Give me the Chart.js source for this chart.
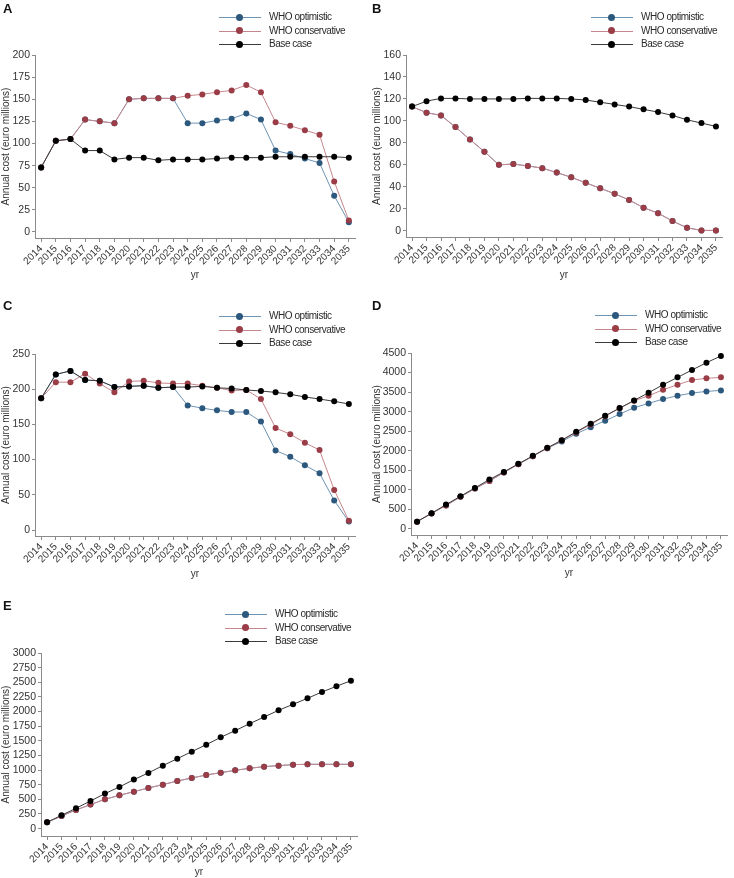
<!DOCTYPE html>
<html>
<head>
<meta charset="utf-8">
<script src="https://cdn.jsdelivr.net/npm/chart.js@4.4.1/dist/chart.umd.min.js"></script>
<style>
  body { margin: 0; background: #fff; width: 734px; height: 878px; position: relative; overflow: hidden; font-family: "Liberation Sans", Arial, sans-serif; }
  .panel { position: absolute; }
  .panel canvas { position: absolute; left: 0; top: 0; }
  .tag { position: absolute; font-weight: bold; font-size: 13px; color: #111; }
  .leg { position: absolute; height: 12px; font-size: 10px; color: #2a2a2a; white-space: nowrap; }
  .leg .ln { position: absolute; left: 0; top: 6px; width: 42px; height: 1px; }
  .leg .dot { position: absolute; left: 17px; top: 2.5px; width: 7px; height: 7px; border-radius: 50%; }
  .leg span { position: absolute; left: 50px; top: 0; line-height: 12px; letter-spacing: -0.45px; }
</style>
</head>
<body>
<script>
// years on the x axis
const years = [2014, 2015, 2016, 2017, 2018, 2019, 2020, 2021, 2022, 2023, 2024,
               2025, 2026, 2027, 2028, 2029, 2030, 2031, 2032, 2033, 2034, 2035];

// panel A
const aOpt  = [73, 103, 105, 127, 125, 123, 150, 151, 151, 151, 123, 123, 126, 128, 134, 127, 92, 88, 83, 78, 41, 11];
const aCons = [73, 103, 105, 127, 125, 123, 150, 151, 151, 151, 154, 155.5, 158, 160, 166, 158, 124, 120, 115, 110, 57, 13];
const aBase = [73, 103, 105, 92, 92, 82, 84, 84, 81, 82, 82, 82, 83, 84, 84, 84, 85, 85, 85, 85, 85, 84];
const aTicks = [0, 25, 50, 75, 100, 125, 150, 175, 200];

// panel B
const bOpt  = [113, 107.5, 105, 94.4, 83, 72, 60, 60.7, 59, 57, 53, 48.6, 43.7, 38.6, 33.7, 28, 21, 16, 8.8, 2.7, 0.3, 0.3];
const bCons = [113, 107.5, 105, 94.4, 83, 72, 60, 60.7, 59, 57, 53, 48.6, 43.7, 38.6, 33.7, 28, 21, 16, 8.8, 2.7, 0.3, 0.3];
const bBase = [113, 118, 120.5, 120.5, 120, 120, 120, 120, 120.5, 120.5, 120.5, 120, 119, 117, 115, 113, 110.5, 108, 105, 101, 98, 95];
const bTicks = [0, 20, 40, 60, 80, 100, 120, 140, 160];

// panel C
const cOpt  = [187, 221, 226, 213, 212, 203, 204, 205, 202, 203, 177, 173, 170, 167.6, 167.6, 154, 113, 104, 92, 80.5, 42, 12];
const cCons = [187, 210, 210, 222, 208, 195.5, 211, 212, 209, 208, 208, 205, 202, 198, 199, 186, 145, 136, 124, 113.6, 57, 13];
const cBase = [187, 221, 226, 213, 212, 203, 204, 205, 202, 203, 203, 204, 202, 201, 199, 197.4, 195.5, 192.7, 189, 186, 182.8, 179];
const cTicks = [0, 50, 100, 150, 200, 250];

// panel D
const dOpt  = [188, 398, 600, 822, 1035, 1225, 1445, 1655, 1860, 2062, 2237, 2434, 2604, 2767, 2938, 3100, 3211, 3322, 3407, 3476, 3518, 3544];
const dCons = [188, 398, 600, 822, 1035, 1225, 1445, 1655, 1860, 2065, 2262, 2470, 2670, 2885, 3085, 3279, 3407, 3561, 3689, 3809, 3852, 3877];
const dBase = [188, 401, 623, 837, 1050, 1264, 1460, 1665, 1870, 2075, 2272, 2485, 2690, 2895, 3091, 3288, 3484, 3689, 3877, 4065, 4253, 4424];
const dTicks = [0, 500, 1000, 1500, 2000, 2500, 3000, 3500, 4000, 4500];

// panel E
const eOpt  = [108, 216, 319, 410, 501, 569, 632, 694, 751, 814, 865, 916, 956, 996, 1030, 1059, 1076, 1093, 1099, 1099, 1099, 1099];
const eCons = [108, 216, 319, 410, 501, 569, 632, 694, 751, 814, 865, 916, 956, 996, 1030, 1059, 1076, 1093, 1099, 1099, 1099, 1099];
const eBase = [108, 228, 347, 472, 598, 712, 837, 951, 1076, 1195, 1315, 1434, 1560, 1674, 1793, 1907, 2021, 2123, 2226, 2334, 2431, 2527];
const eTicks = [0, 250, 500, 750, 1000, 1250, 1500, 1750, 2000, 2250, 2500, 2750, 3000];

const seriesNames = ["WHO optimistic", "WHO conservative", "Base case"];
const dotColors  = ["#2b587c", "#9a3d47", "#000000"];
const lineColors = ["#6e93b4", "#c6868d", "#3a3a3a"];

Chart.defaults.font.family = '"Liberation Sans", Arial, sans-serif';
Chart.defaults.font.size = 10;
Chart.defaults.color = "#333";

// one panel = one canvas + html legend + letter
function panel(p) {
    const box = document.createElement("div");
    box.className = "panel";
    box.style.left = p.x + "px";
    box.style.top = p.y + "px";
    box.style.width = p.w + "px";
    box.style.height = p.h + "px";
    document.body.appendChild(box);

    const cv = document.createElement("canvas");
    cv.width = p.w;
    cv.height = p.h;
    box.appendChild(cv);

    const tag = document.createElement("div");
    tag.className = "tag";
    tag.textContent = p.tag;
    tag.style.left = p.tagX + "px";
    tag.style.top = p.tagY + "px";
    box.appendChild(tag);

    seriesNames.forEach((n, i) => {
        const row = document.createElement("div");
        row.className = "leg";
        row.style.left = p.legX + "px";
        row.style.top = (p.legY + i * 13.5) + "px";
        row.innerHTML = `<div class="ln" style="background:${lineColors[i]}"></div>` +
            `<div class="dot" style="background:${dotColors[i]}"></div><span>${n}</span>`;
        box.appendChild(row);
    });

    const sets = [p.opt, p.cons, p.base].map((vals, i) => ({
        label: seriesNames[i],
        data: years.map((yr, k) => ({ x: yr, y: vals[k] })),
        borderColor: lineColors[i],
        backgroundColor: dotColors[i],
        pointBackgroundColor: dotColors[i],
        pointBorderColor: dotColors[i],
        borderWidth: 1,
        pointRadius: 3,
        pointBorderWidth: 0,
        order: 2 - i   // base case on top
    }));

    new Chart(cv.getContext("2d"), {
        type: "line",
        data: { datasets: sets },
        options: {
            responsive: false,
            animation: false,
            layout: { padding: { top: p.top, right: p.right, left: 0, bottom: 0 } },
            plugins: { legend: { display: false }, tooltip: { enabled: false } },
            scales: {
                x: {
                    type: "linear",
                    bounds: "data",
                    min: 2013.58,
                    max: 2035.42,
                    afterBuildTicks: s => { s.ticks = years.map(v => ({ value: v })); },
                    afterFit: s => { s.height = p.xh; },
                    ticks: { callback: v => String(v), autoSkip: false, minRotation: 45, maxRotation: 45, padding: 1, color: "#333" },
                    grid: { drawOnChartArea: false, drawTicks: true, tickLength: 4, color: "#8a8a8a" },
                    border: { display: true, color: "#8a8a8a" },
                    title: { display: true, text: "yr", color: "#333", padding: { top: 0, bottom: p.xtPad } }
                },
                y: {
                    type: "linear",
                    bounds: "data",
                    min: p.ymin,
                    max: p.ticks[p.ticks.length - 1],
                    afterBuildTicks: s => { s.ticks = p.ticks.map(v => ({ value: v })); },
                    afterFit: s => { s.width = p.yw; },
                    ticks: { callback: v => String(v), autoSkip: false, padding: 2, color: "#333", font: { size: 10.5 } },
                    grid: { drawOnChartArea: false, drawTicks: true, tickLength: 3, color: "#8a8a8a" },
                    border: { display: true, color: "#8a8a8a" },
                    title: { display: true, text: "Annual cost (euro millions)", color: "#333", padding: { top: p.ytPad, bottom: 0 } }
                }
            }
        }
    });
}

panel({ tag: "A", x: 0, y: 0, w: 367, h: 290, tagX: 3, tagY: 1, legX: 219, legY: 11,
        top: 55, right: 12, yw: 35, xh: 52, xtPad: 9, ytPad: 0, ymin: -6.8, ticks: aTicks,
        opt: aOpt, cons: aCons, base: aBase });
panel({ tag: "B", x: 367, y: 0, w: 367, h: 290, tagX: 5, tagY: 1, legX: 224, legY: 11,
        top: 55, right: 12, yw: 39, xh: 53, xtPad: 9, ytPad: 4, ymin: -5.7, ticks: bTicks,
        opt: bOpt, cons: bCons, base: bBase });
panel({ tag: "C", x: 0, y: 290, w: 367, h: 290, tagX: 3, tagY: 8, legX: 219, legY: 20,
        top: 64, right: 12, yw: 35, xh: 44, xtPad: 0, ytPad: 0, ymin: -8.5, ticks: cTicks,
        opt: cOpt, cons: cCons, base: cBase });
panel({ tag: "D", x: 367, y: 290, w: 367, h: 290, tagX: 5, tagY: 8, legX: 228, legY: 19,
        top: 63, right: 7, yw: 44, xh: 45, xtPad: 1, ytPad: 4, ymin: -154, ticks: dTicks,
        opt: dOpt, cons: dCons, base: dBase });
panel({ tag: "E", x: 0, y: 580, w: 367, h: 298, tagX: 3, tagY: 18, legX: 225, legY: 28,
        top: 73, right: 10, yw: 41, xh: 42, xtPad: 0, ytPad: 0, ymin: -126, ticks: eTicks,
        opt: eOpt, cons: eCons, base: eBase });
</script>
</body>
</html>
